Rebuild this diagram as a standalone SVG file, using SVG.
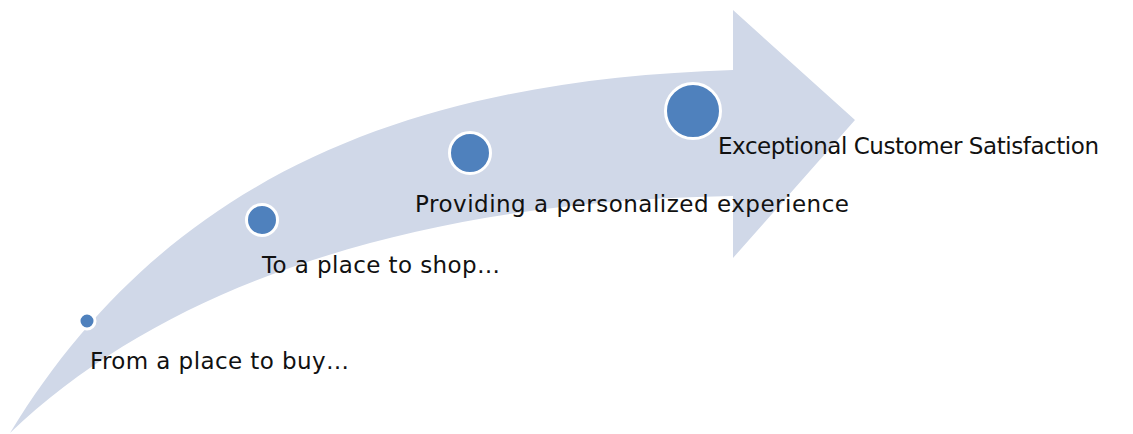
<svg xmlns="http://www.w3.org/2000/svg" width="1133" height="434" viewBox="0 0 1133 434">
  <style>
    .band { fill: #D0D8E8; }
    .dot { fill: #4F81BD; stroke: #FFFFFF; stroke-width: 3; }
    .label { font-family: "DejaVu Sans", Verdana, sans-serif; font-size: 23px; fill: #111111; }
  </style>
  <rect width="1133" height="434" fill="#FFFFFF"/>

  <!-- Curved upward arrow carrying the stages -->
  <g id="arrow">
    <path class="band" d="M 10 433 C 170 170 420 80 733 70 L 733 10 L 855 120 L 733 258 L 733 196 C 450 200 180 270 10 433 Z"/>
  </g>

  <g id="stage-1">
    <circle class="dot" cx="87" cy="321" r="8"/>
    <text class="label" x="90" y="369" textLength="259" lengthAdjust="spacing">From a place to buy…</text>
  </g>

  <g id="stage-2">
    <circle class="dot" cx="262" cy="220" r="15.5"/>
    <text class="label" x="262" y="272.5" textLength="238" lengthAdjust="spacing">To a place to shop…</text>
  </g>

  <g id="stage-3">
    <circle class="dot" cx="470" cy="153" r="20.5"/>
    <text class="label" x="415" y="212" textLength="434" lengthAdjust="spacing">Providing a personalized experience</text>
  </g>

  <g id="stage-4">
    <circle class="dot" cx="693" cy="111" r="27.5"/>
    <text class="label" x="718" y="154" textLength="381" lengthAdjust="spacing">Exceptional Customer Satisfaction</text>
  </g>
</svg>
